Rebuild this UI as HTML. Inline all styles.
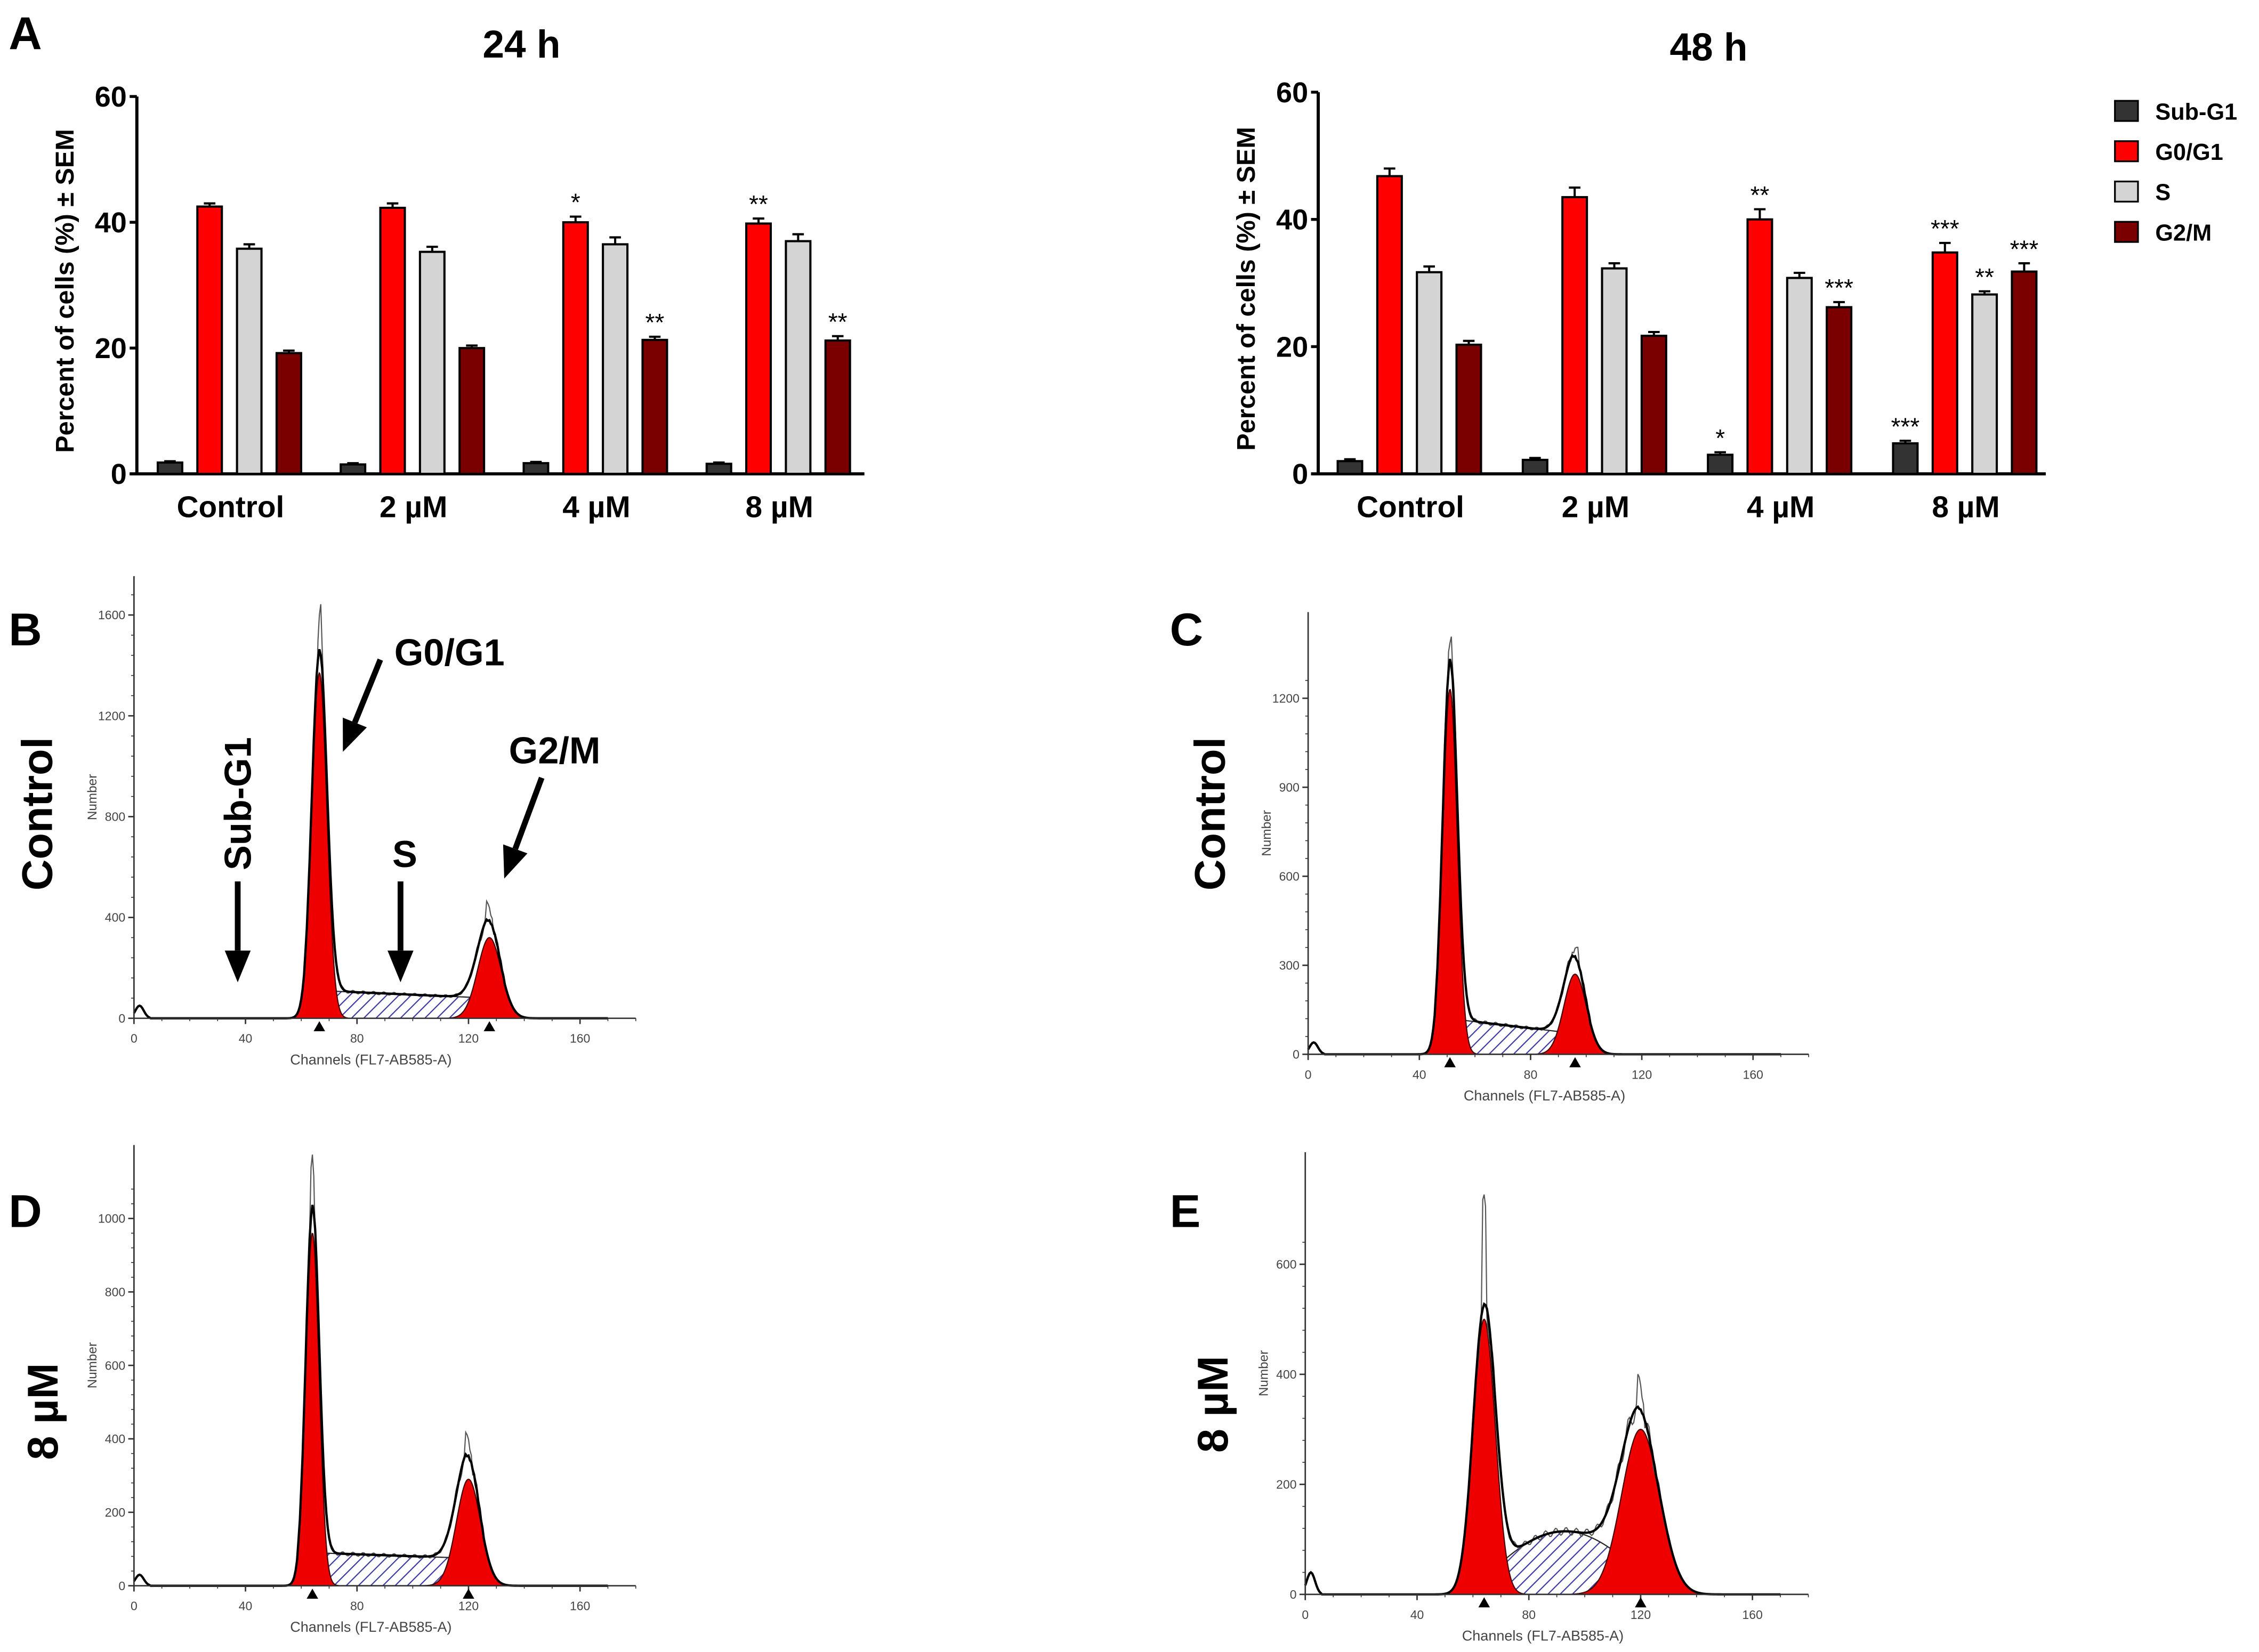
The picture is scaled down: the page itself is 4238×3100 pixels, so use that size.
<!DOCTYPE html>
<html><head><meta charset="utf-8"><style>
html,body{margin:0;padding:0;background:#fff;}
svg{display:block;font-family:"Liberation Sans",Arial,sans-serif;}
</style></head><body>
<svg id="fig" width="4238" height="3100" viewBox="0 0 1568 1147" preserveAspectRatio="none" xmlns="http://www.w3.org/2000/svg">
<defs>
<pattern id="hatch" patternUnits="userSpaceOnUse" width="6" height="6" patternTransform="rotate(45)">
<rect width="6" height="6" fill="#fff"/><line x1="0" y1="0" x2="0" y2="6" stroke="#3a3aa0" stroke-width="1.6"/>
</pattern>
</defs>
<g id="root"></g>
</svg>
<script>
const categories = ["Control","2 µM","4 µM","8 µM"];
const seriesNames = ["Sub-G1","G0/G1","S","G2/M"];
const seriesColors = ["#333333","#ff0000","#d4d4d4","#7a0000"];
const yTicks = [0,20,40,60];
const h24_sub = [1.8,1.5,1.7,1.6];
const h24_g1 = [42.5,42.3,40.0,39.8];
const h24_s = [35.8,35.3,36.5,37.0];
const h24_g2 = [19.2,20.0,21.3,21.2];
const h24_err = [[0.2,0.2,0.2,0.2],[0.5,0.7,0.9,0.8],[0.7,0.8,1.1,1.1],[0.4,0.4,0.5,0.7]];
const h24_sig = [["","","",""],["","","*","**"],["","","",""],["","","**","**"]];
const h48_sub = [2.0,2.2,3.0,4.8];
const h48_g1 = [46.8,43.5,40.0,34.8];
const h48_s = [31.7,32.3,30.8,28.2];
const h48_g2 = [20.3,21.7,26.2,31.8];
const h48_err = [[0.3,0.3,0.4,0.4],[1.2,1.5,1.6,1.5],[0.9,0.8,0.8,0.5],[0.6,0.6,0.8,1.3]];
const h48_sig = [["","","*","***"],["","","**","***"],["","","","**"],["","","***","***"]];

const NS="http://www.w3.org/2000/svg";
const root=document.getElementById('root');
function el(tag,attrs,parent,text){const e=document.createElementNS(NS,tag);for(const k in attrs)e.setAttribute(k,attrs[k]);if(text!==undefined)e.textContent=text;(parent||root).appendChild(e);return e;}

function barChart(ax,title,data,err,sig,name){
  const g=el('g',{});
  
  
  const y=v=>ax.y0-(v/60)*(ax.y0-ax.y60);
  const t=el('text',{x:ax.tx,y:ax.ty,'font-size':27,'font-weight':'bold','text-anchor':'middle'},g,title);
  
  
  const ya=el('line',{x1:ax.x0,y1:ax.y60,x2:ax.x0,y2:ax.y0,stroke:'#000','stroke-width':2.2},g);
  
  
  const xa=el('line',{x1:ax.x0-5,y1:ax.y0,x2:ax.x1,y2:ax.y0,stroke:'#000','stroke-width':2.2},g);
  
  
  yTicks.forEach(v=>{
    el('line',{x1:ax.x0-5,y1:y(v),x2:ax.x0,y2:y(v),stroke:'#000','stroke-width':2},g);
    const tl=el('text',{x:ax.x0-7,y:y(v)+7,'font-size':20,'font-weight':'bold','text-anchor':'end'},g,String(v));
    
    
  });
  const yl=el('text',{transform:`translate(${ax.x0-44},${(ax.y0+ax.y60)/2+4}) rotate(-90)`,'font-size':18,'font-weight':'bold','text-anchor':'middle'},g,'Percent of cells (%) ± SEM');
  
  
  const bw=17, step=27.5;
  categories.forEach((c,ci)=>{
    const gx=ax.g0+ci*ax.gs;
    const cl=el('text',{x:gx+42,y:ax.y0+30,'font-size':21,'font-weight':'bold','text-anchor':'middle'},g,c);
    
    
    data.forEach((ser,si)=>{
      const v=ser[ci], cx=gx+si*step;
      const e=err[si][ci];
      el('line',{x1:cx,y1:y(v+e),x2:cx,y2:y(v),stroke:'#000','stroke-width':1.5},g);
      el('line',{x1:cx-4,y1:y(v+e),x2:cx+4,y2:y(v+e),stroke:'#000','stroke-width':1.5},g);
      const r=el('rect',{x:cx-bw/2,y:y(v),width:bw,height:ax.y0-y(v),fill:seriesColors[si],stroke:'#000','stroke-width':1.5},g);
      
      
      if(sig[si][ci]){
        const s=el('text',{x:cx,y:y(v+e)-4,'font-size':17,'text-anchor':'middle'},g,sig[si][ci]);
        
        
      }
    });
  });
}
barChart({x0:95,x1:600,y0:329,y60:67,g0:118,gs:127,tx:362,ty:40},'24 h',[h24_sub,h24_g1,h24_s,h24_g2],h24_err,h24_sig,'chart-24h');
barChart({x0:915,x1:1420,y0:329,y60:64,g0:937,gs:128.5,tx:1186,ty:42},'48 h',[h48_sub,h48_g1,h48_s,h48_g2],h48_err,h48_sig,'chart-48h');

const lg=el('g',{});


seriesNames.forEach((n,i)=>{
  const yy=77+i*28;
  el('rect',{x:1468,y:yy-7,width:16,height:14,fill:seriesColors[i],stroke:'#000','stroke-width':1.2},lg);
  const t=el('text',{x:1496,y:yy+6,'font-size':16,'font-weight':'bold'},lg,n);
  
  
});

[['A',6,34],['B',6,448],['C',812,448],['D',6,852],['E',812,852]].forEach(([l,x,yy])=>{
  const t=el('text',{x:x,y:yy,'font-size':32,'font-weight':'bold'},root,l);
  
  
});
[['Control',36,565],['Control',850,565],['8 µM',40,980],['8 µM',852,975]].forEach(([l,x,yy])=>{
  const t=el('text',{transform:`translate(${x},${yy}) rotate(-90)`,'font-size':30,'font-weight':'bold','text-anchor':'middle'},root,l);
  
  
});

function gauss(x,c,s,h){return h*Math.exp(-0.5*((x-c)/s)**2);}
function histo(p,name){
  const g=el('g',{});
  
  
  const X=c=>p.x0+c*p.xs, Y=n=>p.y0-n*p.ys;
  const sFun=c=>{ if(c<p.g1c-2||c>p.g2c+2) return 0; const t=(c-p.g1c)/(p.g2c-p.g1c); return p.s0+(p.s1-p.s0)*t + (p.sh||0)*Math.sin(Math.PI*t);};
  const sSm=c=>{ let a=0,n=0; for(let d=-3;d<=3;d++){a+=sFun(c+d);n++;} return a/n;};
  let d='M'+X(p.g1c-3)+','+Y(0);
  for(let c=p.g1c-3;c<=p.g2c+3;c+=0.5) d+=' L'+X(c)+','+Y(sSm(c));
  d+=' L'+X(p.g2c+3)+','+Y(0)+'Z';
  el('path',{d:d,fill:'url(#hatch)',stroke:'#222','stroke-width':0.8},g);
  [[p.g1c,p.g1s,p.g1h],[p.g2c,p.g2s,p.g2h]].forEach(([c0,s,h])=>{
    let pd='M'+X(c0-4*s)+','+Y(0);
    for(let c=c0-4*s;c<=c0+4*s;c+=0.25) pd+=' L'+X(c)+','+Y(gauss(c,c0,s,h));
    pd+=' L'+X(c0+4*s)+','+Y(0)+'Z';
    const pk=el('path',{d:pd,fill:'#ee0000',stroke:'#400','stroke-width':0.8},g);
    
    
  });
  let ed='', rd='';
  for(let c=0;c<=170;c+=0.5){
    const v=gauss(c,p.g1c,p.g1s,p.g1h)+gauss(c,p.g2c,p.g2s,p.g2h)+sSm(c)+(c<6?gauss(c,2,1.5,p.deb):0);
    ed+=(c?' L':'M')+X(c)+','+Y(v);
    const r=v*(1+0.06*Math.sin(c*1.7))+(Math.abs(c-p.g1c)<1?p.g1r:0)+(Math.abs(c-p.g2c)<1.5?p.g2r:0);
    rd+=(c?' L':'M')+X(c)+','+Y(r);
  }
  el('path',{d:rd,fill:'none',stroke:'#555','stroke-width':0.8},g);
  el('path',{d:ed,fill:'none',stroke:'#000','stroke-width':1.6},g);
  el('line',{x1:p.x0,y1:p.top,x2:p.x0,y2:p.y0,stroke:'#333','stroke-width':1},g);
  el('line',{x1:p.x0,y1:p.y0,x2:p.x0+180*p.xs,y2:p.y0,stroke:'#333','stroke-width':1},g);
  p.yt.forEach(v=>{
    el('line',{x1:p.x0-4,y1:Y(v),x2:p.x0,y2:Y(v),stroke:'#333','stroke-width':1},g);
    el('text',{x:p.x0-6,y:Y(v)+3,'font-size':8.5,fill:'#444','text-anchor':'end'},g,String(v));
  });
  for(let v=0;v<=p.yt[p.yt.length-1]*1.08;v+=p.yt[1]/5) el('line',{x1:p.x0-2,y1:Y(v),x2:p.x0,y2:Y(v),stroke:'#333','stroke-width':0.6},g);
  [0,40,80,120,160].forEach(v=>{
    el('line',{x1:X(v),y1:p.y0,x2:X(v),y2:p.y0+4,stroke:'#333','stroke-width':1},g);
    el('text',{x:X(v),y:p.y0+17,'font-size':8.5,fill:'#444','text-anchor':'middle'},g,String(v));
  });
  for(let v=0;v<=180;v+=10) el('line',{x1:X(v),y1:p.y0,x2:X(v),y2:p.y0+2,stroke:'#333','stroke-width':0.6},g);
  const xl=el('text',{x:X(85),y:p.y0+32,'font-size':10,fill:'#444','text-anchor':'middle'},g,'Channels (FL7-AB585-A)');
  
  
  const yl=el('text',{transform:`translate(${p.x0-26},${(p.top+p.y0)/2}) rotate(-90)`,'font-size':9,fill:'#444','text-anchor':'middle'},g,'Number');
  
  
  [p.g1c,p.g2c].forEach(c=>el('path',{d:`M${X(c)-4},${p.y0+9} L${X(c)+4},${p.y0+9} L${X(c)},${p.y0+2}Z`,fill:'#000'},g));
}
histo({x0:93,xs:1.935,y0:707,ys:0.175,top:400,yt:[0,400,800,1200,1600],g1c:66.5,g1s:2.7,g1h:1370,g1r:140,g2c:127.5,g2s:4.2,g2h:320,g2r:50,s0:110,s1:80,sh:0,deb:50},'histogram-b');
histo({x0:908,xs:1.93,y0:732,ys:0.206,top:425,yt:[0,300,600,900,1200],g1c:51,g1s:2.6,g1h:1230,g1r:130,g2c:96,g2s:4.0,g2h:270,g2r:30,s0:120,s1:70,sh:0,deb:40},'histogram-c');
histo({x0:93,xs:1.935,y0:1101,ys:0.255,top:795,yt:[0,200,400,600,800,1000],g1c:64,g1s:2.4,g1h:960,g1r:80,g2c:120,g2s:4.3,g2h:290,g2r:40,s0:90,s1:75,sh:0,deb:30},'histogram-d');
histo({x0:906,xs:1.94,y0:1107,ys:0.382,top:800,yt:[0,200,400,600],g1c:64,g1s:4.0,g1h:500,g1r:170,g2c:120,g2s:6.8,g2h:300,g2r:40,s0:30,s1:40,sh:80,deb:40},'histogram-e');

const an=el('g',{});


function arrow(x1,y1,x2,y2){
  const a=Math.atan2(y2-y1,x2-x1), L=22, W=9;
  const bx=x2-L*Math.cos(a), by=y2-L*Math.sin(a);
  el('line',{x1:x1,y1:y1,x2:bx,y2:by,stroke:'#000','stroke-width':4},an);
  el('path',{d:`M${x2},${y2} L${bx+W*Math.sin(a)},${by-W*Math.cos(a)} L${bx-W*Math.sin(a)},${by+W*Math.cos(a)}Z`,fill:'#000'},an);
}
el('text',{x:312,y:462,'font-size':26,'font-weight':'bold','text-anchor':'middle'},an,'G0/G1');
arrow(264,458,238,522);
el('text',{transform:'translate(174,558) rotate(-90)','font-size':26,'font-weight':'bold','text-anchor':'middle'},an,'Sub-G1');
arrow(165,612,165,682);
el('text',{x:281,y:602,'font-size':26,'font-weight':'bold','text-anchor':'middle'},an,'S');
arrow(278,612,278,682);
el('text',{x:385,y:530,'font-size':26,'font-weight':'bold','text-anchor':'middle'},an,'G2/M');
arrow(376,540,350,610);
</script>
</body></html>
